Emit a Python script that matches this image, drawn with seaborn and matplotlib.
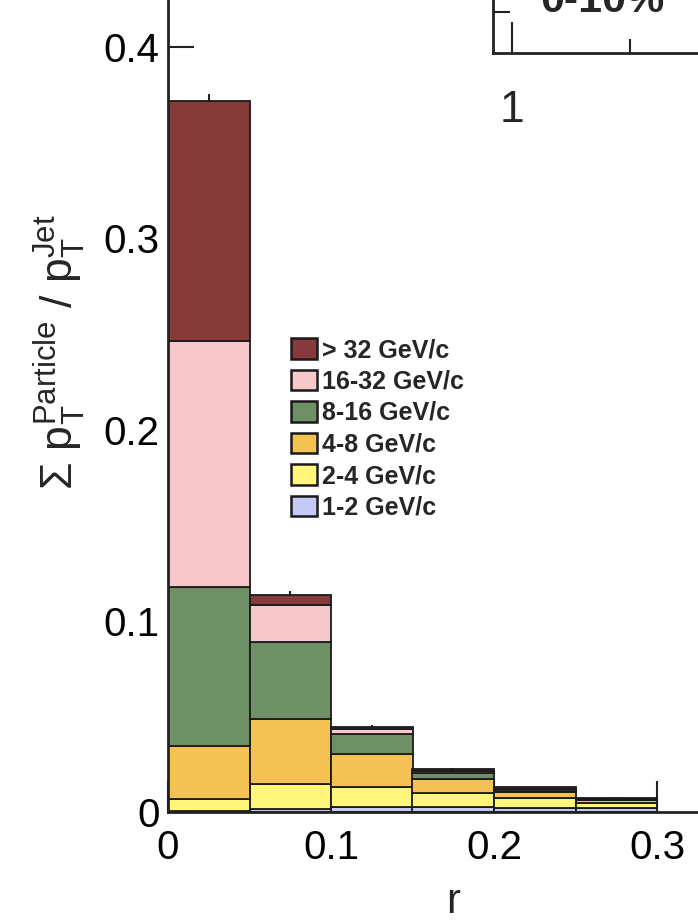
import numpy as np
import pandas as pd
import matplotlib
matplotlib.use("Agg")
import matplotlib.pyplot as plt
from matplotlib.patches import Patch
from matplotlib.ticker import MultipleLocator, FuncFormatter, NullFormatter, FixedLocator
import seaborn as sns

# Jet-shape decomposition: summed particle pT fraction per radial bin,
# split into particle-pT classes (stacked)
r_edges = [0.0, 0.05, 0.10, 0.15, 0.20, 0.25, 0.30]
pt_ranges = ["> 32 GeV/c", "16-32 GeV/c", "8-16 GeV/c", "4-8 GeV/c", "2-4 GeV/c", "1-2 GeV/c"]
colors = ["#873a3a", "#f7c8c9", "#6e9064", "#f4c252", "#fff67a", "#c6c9f4"]

frac_gt32 = [0.1255, 0.0052, 0.0012, 0.0010, 0.0009, 0.0005]
frac_16_32 = [0.1290, 0.0194, 0.0025, 0.0011, 0.0008, 0.0003]
frac_8_16 = [0.0830, 0.0405, 0.0104, 0.0029, 0.0006, 0.0004]
frac_4_8 = [0.0277, 0.0340, 0.0171, 0.0072, 0.0034, 0.0014]
frac_2_4 = [0.0063, 0.0128, 0.0107, 0.0075, 0.0051, 0.0029]
frac_1_2 = [0.0005, 0.0017, 0.0026, 0.0026, 0.0021, 0.0020]
total_err = [0.0037, 0.0020, 0.0008, 0.0006, 0.0004, 0.0004]

centrality_label = "0-10%"

series = [frac_gt32, frac_16_32, frac_8_16, frac_4_8, frac_2_4, frac_1_2]
centers = [(a + b) / 2 for a, b in zip(r_edges[:-1], r_edges[1:])]
rows = []
for name, vals in zip(pt_ranges, series):
    for c, v in zip(centers, vals):
        rows.append({"r": c, "frac": v, "pt": name})
df = pd.DataFrame(rows)
totals = np.sum(np.array(series), axis=0)

sns.set_theme(style="white")
plt.rcParams["font.family"] = ["Liberation Sans", "DejaVu Sans"]
plt.rcParams["mathtext.fontset"] = "custom"
plt.rcParams["mathtext.rm"] = "Liberation Sans"
plt.rcParams["mathtext.it"] = "Liberation Sans"
plt.rcParams["mathtext.bf"] = "Liberation Sans:bold"
plt.rcParams["mathtext.default"] = "regular"

W, H = 698, 923
fig = plt.figure(figsize=(W / 100, H / 100), dpi=100)

# main frame: origin at (168, 812) px, 1630 px per unit in x, 1912 px per unit in y
x0, y0 = 168, 812
xmax, ymax = 0.35, 0.47
ax = fig.add_axes([x0 / W, (H - y0) / H, xmax * 1630 / W, ymax * 1912 / H])

ax.errorbar(centers, totals, yerr=total_err, fmt="none", ecolor="#222222",
            elinewidth=1.5, capsize=0, zorder=0.5)
sns.histplot(data=df, x="r", weights="frac", hue="pt", hue_order=pt_ranges,
             palette=colors, multiple="stack", bins=r_edges, element="bars",
             edgecolor="#1a1a1a", linewidth=1.3, alpha=1.0, legend=False, ax=ax)

ax.set_xlim(0, xmax)
ax.set_ylim(0, ymax)
for s in ["top", "right"]:
    ax.spines[s].set_visible(False)
for s in ["left", "bottom"]:
    ax.spines[s].set_color("#222222")
    ax.spines[s].set_linewidth(2)

ax.xaxis.set_major_locator(MultipleLocator(0.1))
ax.xaxis.set_minor_locator(MultipleLocator(0.05))
ax.yaxis.set_major_locator(MultipleLocator(0.1))
ax.yaxis.set_minor_locator(MultipleLocator(0.05))
fmt = FuncFormatter(lambda v, p: "0" if abs(v) < 1e-9 else f"{v:.1f}")
ax.xaxis.set_major_formatter(fmt)
ax.yaxis.set_major_formatter(fmt)
ax.tick_params(axis="both", which="both", direction="in", color="#222222",
               labelsize=29, labelcolor="black")
ax.tick_params(axis="y", which="major", length=19, width=1.5, pad=6)
ax.tick_params(axis="y", which="minor", length=10, width=1.5)
ax.tick_params(axis="x", which="major", length=22, width=1.5, pad=12)
ax.tick_params(axis="x", which="minor", length=11, width=1.5)
ax.tick_params(left=True, bottom=True, which="both")

ax.set_xlabel("r", fontsize=30)
ax.xaxis.set_label_coords(0.5, -0.078)
ax.set_ylabel(r"$\Sigma\ p_{T}^{Particle}\ /\ p_{T}^{Jet}$", fontsize=32)
ax.yaxis.set_label_coords(-0.14, 0.512)

handles = [Patch(facecolor=c, edgecolor="#1a1a1a", linewidth=1.8) for c in colors]
ax.legend(handles, pt_ranges, loc="upper left",
          bbox_to_anchor=((291 - x0) / (xmax * 1630), (y0 - 338) / (ymax * 1912)),
          frameon=False, prop={"weight": "bold", "size": 18},
          handlelength=1.04, handleheight=0.9, handletextpad=0.18,
          labelspacing=0.3, borderpad=0, borderaxespad=0)

# neighbouring panel frame at the top right
ix0, iy0 = 493, 53
ax2 = fig.add_axes([ix0 / W, (H - iy0) / H, 0.5, 0.2])
ax2.set_xscale("log")
ax2.set_xlim(10 ** (-20 / 415), 10 ** (0.5 * W / 415))
ax2.set_ylim(0, 1)
ax2.set_facecolor("none")
for s in ["top", "right"]:
    ax2.spines[s].set_visible(False)
for s in ["left", "bottom"]:
    ax2.spines[s].set_color("#222222")
    ax2.spines[s].set_linewidth(2)
ax2.xaxis.set_major_locator(FixedLocator([1]))
ax2.xaxis.set_minor_locator(FixedLocator([2]))
ax2.xaxis.set_major_formatter(FuncFormatter(lambda v, p: "1"))
ax2.xaxis.set_minor_formatter(NullFormatter())
ax2.yaxis.set_major_locator(FixedLocator([]))
ax2.yaxis.set_minor_locator(FixedLocator([41 / (0.2 * H)]))
ax2.tick_params(axis="both", which="both", direction="in", color="#222222", width=1.5)
ax2.tick_params(axis="x", which="major", length=22, labelsize=32, pad=27)
ax2.tick_params(axis="x", which="minor", length=10)
ax2.tick_params(axis="y", which="minor", length=12)
ax2.tick_params(left=True, bottom=True, which="both")
fig.text(540 / W, (H - 12) / H, centrality_label, fontsize=31, fontweight="bold",
         ha="left", va="baseline")

fig.savefig("out.png", dpi=100)
